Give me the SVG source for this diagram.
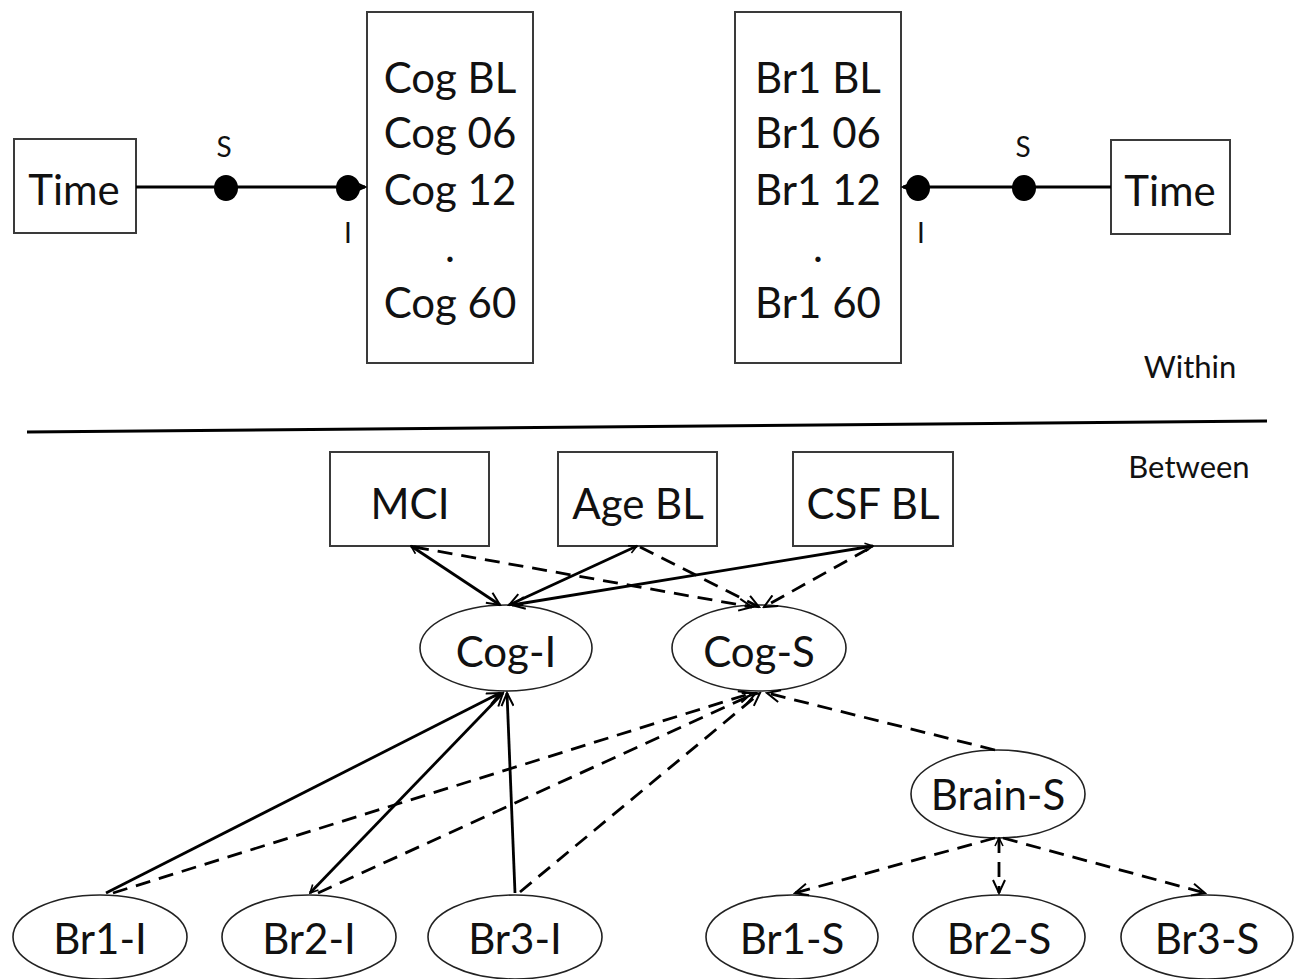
<svg xmlns="http://www.w3.org/2000/svg" width="1301" height="979" viewBox="0 0 1301 979">
<style>
.box{fill:#fff;stroke:#3a3a3a;stroke-width:2}
.ell{fill:#fff;stroke:#222;stroke-width:1.6}
.t{font-family:Lato,"Liberation Sans",sans-serif;font-size:42px;fill:#111;text-anchor:middle}
.s{font-family:Lato,"Liberation Sans",sans-serif;font-size:28px;fill:#111;text-anchor:middle}
.lab{font-family:Lato,"Liberation Sans",sans-serif;font-size:31px;fill:#111;text-anchor:middle}
.c{stroke:#000;stroke-width:2.8;fill:none}
.d{stroke:#000;stroke-width:2.8;fill:none;stroke-dasharray:15 9}
.dot{fill:#000}
</style>
<defs>
<marker id="a" markerWidth="16" markerHeight="14" refX="14" refY="7" orient="auto" markerUnits="userSpaceOnUse">
<path d="M1,1 L14,7 L1,13" fill="none" stroke="#000" stroke-width="2"/>
</marker>
<marker id="st" markerWidth="10" markerHeight="10" refX="1" refY="5" orient="auto" markerUnits="userSpaceOnUse">
<path d="M9,1 L1,5 L9,9" fill="none" stroke="#000" stroke-width="1.6"/>
</marker>
</defs>

<g id="within-left">
<rect id="time-left" class="box" x="14" y="139" width="122" height="94"/>
<text class="t" x="74" y="205">Time</text>
<rect id="cog-box" class="box" x="367" y="12" width="166" height="351"/>
<text class="t" x="450" y="93">Cog BL</text>
<text class="t" x="450" y="148">Cog 06</text>
<text class="t" x="450" y="205">Cog 12</text>
<text class="t" x="450" y="262">.</text>
<text class="t" x="450" y="318">Cog 60</text>
</g>

<g id="within-right">
<rect id="br1-box" class="box" x="735" y="12" width="166" height="351"/>
<text class="t" x="818" y="93">Br1 BL</text>
<text class="t" x="818" y="148">Br1 06</text>
<text class="t" x="818" y="205">Br1 12</text>
<text class="t" x="818" y="262">.</text>
<text class="t" x="818" y="318">Br1 60</text>
<rect id="time-right" class="box" x="1111" y="140" width="119" height="94"/>
<text class="t" x="1170" y="206">Time</text>
</g>

<g id="within-connectors">
<line class="c" x1="136" y1="187" x2="365" y2="187" marker-end="url(#a)"/>
<ellipse class="dot" cx="226" cy="188" rx="12" ry="13"/>
<ellipse class="dot" cx="348" cy="188" rx="12" ry="13"/>
<text class="s" x="224" y="157">S</text>
<text class="s" x="348" y="243">I</text>
<line class="c" x1="1111" y1="187" x2="903" y2="187" marker-end="url(#a)"/>
<ellipse class="dot" cx="1024" cy="188" rx="12" ry="13"/>
<ellipse class="dot" cx="918" cy="188" rx="12" ry="13"/>
<text class="s" x="1023" y="157">S</text>
<text class="s" x="921" y="243">I</text>
</g>

<g id="divider">
<line x1="27" y1="432" x2="1267" y2="421" stroke="#000" stroke-width="3"/>
<text class="lab" x="1190" y="378">Within</text>
<text class="lab" x="1189" y="478">Between</text>
</g>

<g id="MCI"><rect class="box" x="330" y="452" width="159" height="94"/><text class="t" x="410" y="519">MCI</text></g>
<g id="AgeBL"><rect class="box" x="558" y="452" width="159" height="94"/><text class="t" x="638" y="519">Age BL</text></g>
<g id="CSFBL"><rect class="box" x="793" y="452" width="160" height="94"/><text class="t" x="873" y="519">CSF BL</text></g>

<g id="Cog-I"><ellipse class="ell" cx="506" cy="648" rx="86" ry="43"/><text class="t" x="506" y="667">Cog-I</text></g>
<g id="Cog-S"><ellipse class="ell" cx="759" cy="648" rx="87" ry="43"/><text class="t" x="759" y="667">Cog-S</text></g>
<g id="Brain-S"><ellipse class="ell" cx="998" cy="794" rx="87" ry="44"/><text class="t" x="998" y="810">Brain-S</text></g>

<g id="Br1-I"><ellipse class="ell" cx="100" cy="937" rx="87" ry="42"/><text class="t" x="100" y="954">Br1-I</text></g>
<g id="Br2-I"><ellipse class="ell" cx="309" cy="937" rx="87" ry="42"/><text class="t" x="309" y="954">Br2-I</text></g>
<g id="Br3-I"><ellipse class="ell" cx="515" cy="937" rx="87" ry="42"/><text class="t" x="515" y="954">Br3-I</text></g>
<g id="Br1-S"><ellipse class="ell" cx="792" cy="937" rx="86" ry="42"/><text class="t" x="792" y="954">Br1-S</text></g>
<g id="Br2-S"><ellipse class="ell" cx="999" cy="937" rx="86" ry="42"/><text class="t" x="999" y="954">Br2-S</text></g>
<g id="Br3-S"><ellipse class="ell" cx="1207" cy="937" rx="86" ry="42"/><text class="t" x="1207" y="954">Br3-S</text></g>

<g id="connectors">
<line class="c" x1="411" y1="546" x2="500" y2="605" marker-end="url(#a)" marker-start="url(#st)"/>
<line class="c" x1="637" y1="546" x2="509" y2="605" marker-end="url(#a)" marker-start="url(#st)"/>
<line class="c" x1="873" y1="546" x2="512" y2="605" marker-end="url(#a)" marker-start="url(#st)"/>
<line class="d" x1="414" y1="547" x2="752" y2="607" marker-end="url(#a)"/>
<line class="d" x1="640" y1="547" x2="759" y2="607" marker-end="url(#a)"/>
<line class="d" x1="868" y1="549" x2="764" y2="607" marker-end="url(#a)"/>

<line class="c" x1="106" y1="893" x2="500" y2="693" marker-end="url(#a)"/>
<line class="c" x1="310" y1="893" x2="503" y2="693" marker-end="url(#a)" marker-start="url(#st)"/>
<line class="c" x1="515" y1="893" x2="507" y2="693" marker-end="url(#a)"/>
<line class="d" x1="113" y1="893" x2="752" y2="693" marker-end="url(#a)"/>
<line class="d" x1="318" y1="893" x2="756" y2="693" marker-end="url(#a)"/>
<line class="d" x1="520" y1="892" x2="760" y2="693" marker-end="url(#a)"/>
<line class="d" x1="995" y1="750" x2="767" y2="693" marker-end="url(#a)"/>

<line class="d" x1="995" y1="838" x2="795" y2="893" marker-end="url(#a)"/>
<line class="d" x1="999" y1="838" x2="999" y2="893" marker-end="url(#a)" marker-start="url(#st)"/>
<line class="d" x1="1003" y1="838" x2="1205" y2="893" marker-end="url(#a)"/>
</g>
</svg>
